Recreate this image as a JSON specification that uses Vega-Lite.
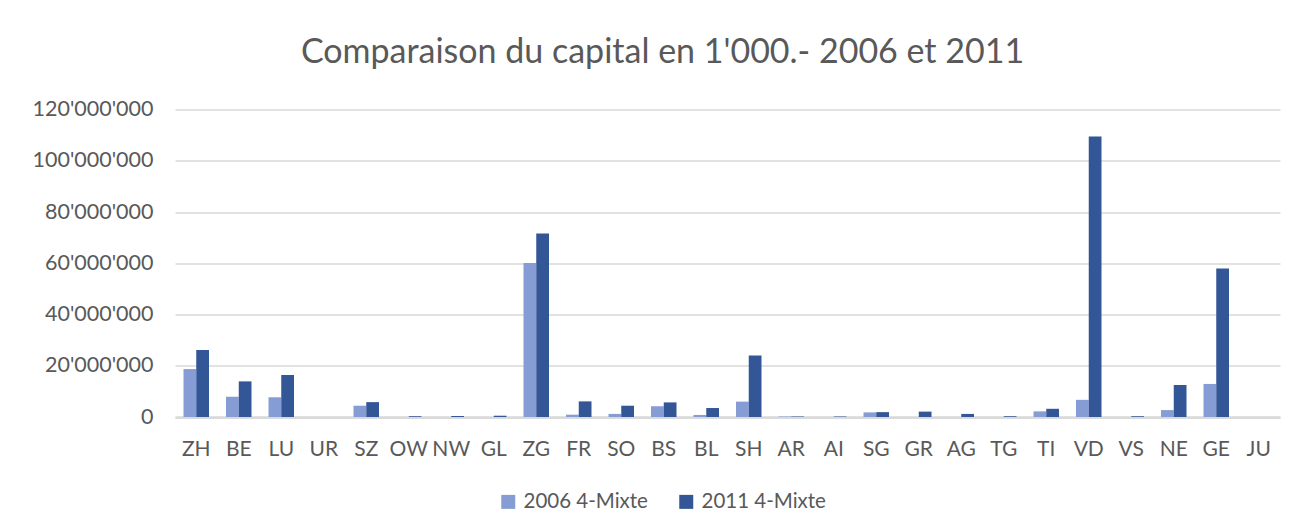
{
  "$schema": "https://vega.github.io/schema/vega-lite/v6.json",
  "width": 1105,
  "height": 307.5,
  "autosize": "none",
  "padding": {"left": 175, "top": 109.5, "right": 12, "bottom": 115},
  "background": "white",
  "config": {
    "view": {"stroke": null},
    "font": "Lato",
    "locale": {"number": {"decimal": ".", "thousands": "'", "grouping": [3], "currency": ["", ""]}}
  },
  "title": {
    "text": "Comparaison du capital en 1'000.- 2006 et 2011",
    "font": "Lato",
    "fontSize": 34,
    "fontWeight": "normal",
    "color": "#595959",
    "anchor": "middle",
    "dx": -65,
    "offset": 29
  },
  "data": {
    "values": [
      {"canton": "ZH", "serie": "2006 4-Mixte", "capital": 18700000},
      {"canton": "ZH", "serie": "2011 4-Mixte", "capital": 26100000},
      {"canton": "BE", "serie": "2006 4-Mixte", "capital": 7900000},
      {"canton": "BE", "serie": "2011 4-Mixte", "capital": 13900000},
      {"canton": "LU", "serie": "2006 4-Mixte", "capital": 7700000},
      {"canton": "LU", "serie": "2011 4-Mixte", "capital": 16400000},
      {"canton": "UR", "serie": "2006 4-Mixte", "capital": 0},
      {"canton": "UR", "serie": "2011 4-Mixte", "capital": 0},
      {"canton": "SZ", "serie": "2006 4-Mixte", "capital": 4400000},
      {"canton": "SZ", "serie": "2011 4-Mixte", "capital": 5800000},
      {"canton": "OW", "serie": "2006 4-Mixte", "capital": 0},
      {"canton": "OW", "serie": "2011 4-Mixte", "capital": 300000},
      {"canton": "NW", "serie": "2006 4-Mixte", "capital": 0},
      {"canton": "NW", "serie": "2011 4-Mixte", "capital": 400000},
      {"canton": "GL", "serie": "2006 4-Mixte", "capital": 0},
      {"canton": "GL", "serie": "2011 4-Mixte", "capital": 500000},
      {"canton": "ZG", "serie": "2006 4-Mixte", "capital": 60100000},
      {"canton": "ZG", "serie": "2011 4-Mixte", "capital": 71600000},
      {"canton": "FR", "serie": "2006 4-Mixte", "capital": 900000},
      {"canton": "FR", "serie": "2011 4-Mixte", "capital": 6100000},
      {"canton": "SO", "serie": "2006 4-Mixte", "capital": 1200000},
      {"canton": "SO", "serie": "2011 4-Mixte", "capital": 4400000},
      {"canton": "BS", "serie": "2006 4-Mixte", "capital": 4200000},
      {"canton": "BS", "serie": "2011 4-Mixte", "capital": 5700000},
      {"canton": "BL", "serie": "2006 4-Mixte", "capital": 800000},
      {"canton": "BL", "serie": "2011 4-Mixte", "capital": 3500000},
      {"canton": "SH", "serie": "2006 4-Mixte", "capital": 6000000},
      {"canton": "SH", "serie": "2011 4-Mixte", "capital": 24000000},
      {"canton": "AR", "serie": "2006 4-Mixte", "capital": 200000},
      {"canton": "AR", "serie": "2011 4-Mixte", "capital": 200000},
      {"canton": "AI", "serie": "2006 4-Mixte", "capital": 0},
      {"canton": "AI", "serie": "2011 4-Mixte", "capital": 200000},
      {"canton": "SG", "serie": "2006 4-Mixte", "capital": 1800000},
      {"canton": "SG", "serie": "2011 4-Mixte", "capital": 1900000},
      {"canton": "GR", "serie": "2006 4-Mixte", "capital": 0},
      {"canton": "GR", "serie": "2011 4-Mixte", "capital": 2100000},
      {"canton": "AG", "serie": "2006 4-Mixte", "capital": 0},
      {"canton": "AG", "serie": "2011 4-Mixte", "capital": 1200000},
      {"canton": "TG", "serie": "2006 4-Mixte", "capital": 0},
      {"canton": "TG", "serie": "2011 4-Mixte", "capital": 300000},
      {"canton": "TI", "serie": "2006 4-Mixte", "capital": 2200000},
      {"canton": "TI", "serie": "2011 4-Mixte", "capital": 3200000},
      {"canton": "VD", "serie": "2006 4-Mixte", "capital": 6700000},
      {"canton": "VD", "serie": "2011 4-Mixte", "capital": 109500000},
      {"canton": "VS", "serie": "2006 4-Mixte", "capital": 0},
      {"canton": "VS", "serie": "2011 4-Mixte", "capital": 300000},
      {"canton": "NE", "serie": "2006 4-Mixte", "capital": 2700000},
      {"canton": "NE", "serie": "2011 4-Mixte", "capital": 12500000},
      {"canton": "GE", "serie": "2006 4-Mixte", "capital": 12900000},
      {"canton": "GE", "serie": "2011 4-Mixte", "capital": 58000000},
      {"canton": "JU", "serie": "2006 4-Mixte", "capital": 0},
      {"canton": "JU", "serie": "2011 4-Mixte", "capital": 0}
    ]
  },
  "mark": {"type": "bar"},
  "encoding": {
    "x": {
      "field": "canton",
      "type": "nominal",
      "sort": ["ZH","BE","LU","UR","SZ","OW","NW","GL","ZG","FR","SO","BS","BL","SH","AR","AI","SG","GR","AG","TG","TI","VD","VS","NE","GE","JU"],
      "scale": {"paddingInner": 0.4, "paddingOuter": 0.2},
      "axis": {
        "title": null,
        "labelAngle": 0,
        "labelFont": "Lato",
        "labelFontSize": 21,
        "labelColor": "#595959",
        "labelPadding": 21,
        "ticks": false,
        "domainColor": "#d9d9d9",
        "domainWidth": 2.5
      }
    },
    "xOffset": {
      "field": "serie",
      "type": "nominal",
      "scale": {"paddingInner": 0, "paddingOuter": 0}
    },
    "y": {
      "field": "capital",
      "type": "quantitative",
      "scale": {"domain": [0, 120000000], "nice": false},
      "axis": {
        "title": null,
        "values": [0, 20000000, 40000000, 60000000, 80000000, 100000000, 120000000],
        "format": ",d",
        "labelFont": "Lato",
        "labelFontSize": 21.5,
        "labelColor": "#595959",
        "labelPadding": 22,
        "ticks": false,
        "domain": false,
        "gridColor": "#d9d9d9",
        "gridWidth": 1.5
      }
    },
    "color": {
      "field": "serie",
      "type": "nominal",
      "scale": {"domain": ["2006 4-Mixte", "2011 4-Mixte"], "range": ["#869cd4", "#325696"]},
      "legend": {
        "title": null,
        "orient": "none",
        "direction": "horizontal",
        "legendX": 323,
        "legendY": 382,
        "symbolType": "square",
        "symbolSize": 196,
        "symbolStrokeWidth": 0,
        "labelFont": "Lato",
        "labelFontSize": 20.5,
        "labelColor": "#595959",
        "labelOffset": 5,
        "columnPadding": 28
      }
    }
  }
}
